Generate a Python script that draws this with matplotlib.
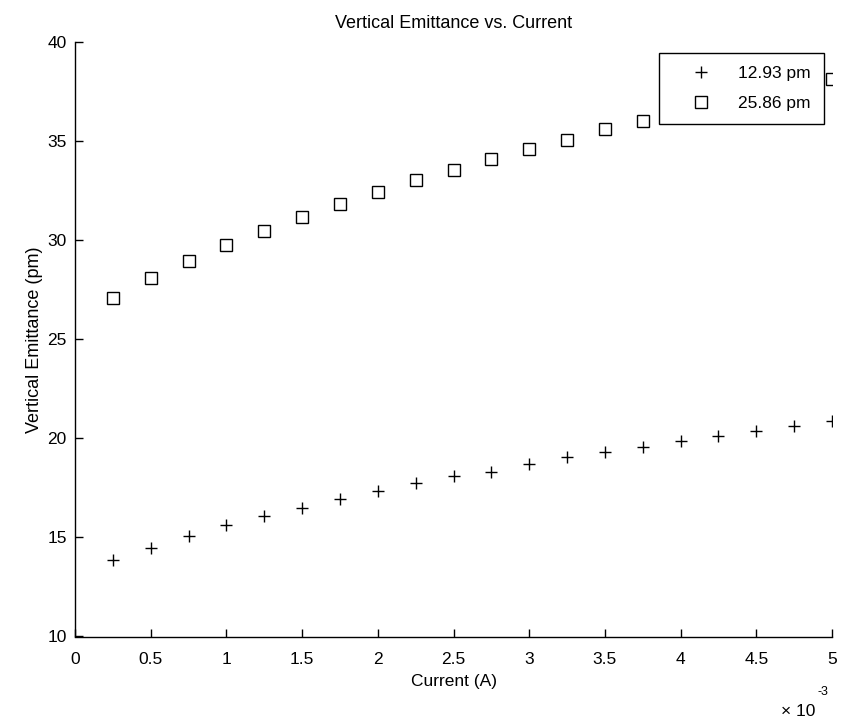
import matplotlib
matplotlib.use("Agg")
import matplotlib.pyplot as plt
from matplotlib.ticker import FuncFormatter

plt.rcParams['font.family'] = ['Liberation Sans', 'DejaVu Sans']

current = [0.25e-3, 0.5e-3, 0.75e-3, 1.0e-3, 1.25e-3, 1.5e-3, 1.75e-3, 2.0e-3,
           2.25e-3, 2.5e-3, 2.75e-3, 3.0e-3, 3.25e-3, 3.5e-3, 3.75e-3, 4.0e-3,
           4.25e-3, 4.5e-3, 4.75e-3, 5.0e-3]
emit_1293 = [13.86, 14.45, 15.09, 15.63, 16.09, 16.50, 16.93, 17.36, 17.74, 18.10,
             18.32, 18.70, 19.07, 19.30, 19.59, 19.86, 20.11, 20.39, 20.63, 20.90]
emit_2586 = [27.07, 28.11, 28.97, 29.78, 30.48, 31.19, 31.82, 32.42, 33.05, 33.57,
             34.09, 34.63, 35.07, 35.61, 36.04, 36.50, 36.95, 37.38, 37.78, 38.13]
series_labels = ['12.93 pm', '25.86 pm']
title = 'Vertical Emittance vs. Current'
xlabel = 'Current (A)'
ylabel = 'Vertical Emittance (pm)'

fs = 12.5
fig = plt.figure(figsize=(8.41, 7.21), dpi=100)
ax = fig.add_axes([75/841, 84.5/721, 757/841, 594.2/721])

ax.plot(current, emit_1293, linestyle='none', marker='+', markersize=9,
        markeredgewidth=1.0, color='black', label=series_labels[0])
ax.plot(current, emit_2586, linestyle='none', marker='s', markersize=8,
        markeredgewidth=1.0, markerfacecolor='none', color='black', label=series_labels[1])

ax.set_xlim(0, 5e-3)
ax.set_ylim(10, 40)
ax.set_xticks([i * 0.5e-3 for i in range(11)])
ax.set_yticks([10, 15, 20, 25, 30, 35, 40])
ax.xaxis.set_major_formatter(FuncFormatter(lambda v, p: ('%g' % round(v * 1e3, 6))))
ax.tick_params(direction='in', length=6, width=1, labelsize=fs)
ax.tick_params(axis='x', pad=11)
ax.tick_params(axis='y', pad=6)
ax.spines['top'].set_visible(False)
ax.spines['right'].set_visible(False)
for s in ['left', 'bottom']:
    ax.spines[s].set_linewidth(1.0)

ax.set_title(title, fontsize=fs + 0.5, pad=10)
ax.set_xlabel(xlabel, fontsize=fs, labelpad=5)
ax.set_ylabel(ylabel, fontsize=fs + 0.5, labelpad=3)

leg = ax.legend(loc='upper right', bbox_to_anchor=((824 - 75) / 757, (636.5 - 53.3) / 594.2),
                frameon=True, fancybox=False, framealpha=1, edgecolor='black',
                fontsize=fs, handlelength=3.3, handletextpad=0.5, borderpad=0.75,
                labelspacing=0.85, borderaxespad=0)
leg.get_frame().set_linewidth(1.0)

fig.text(798/841, 1 - 711/721, '\u00d7 10', fontsize=fs, ha='center', va='center')
fig.text(823/841, 1 - 692/721, '-3', fontsize=fs - 3.5, ha='center', va='center')

fig.savefig('out.png', dpi=100)
